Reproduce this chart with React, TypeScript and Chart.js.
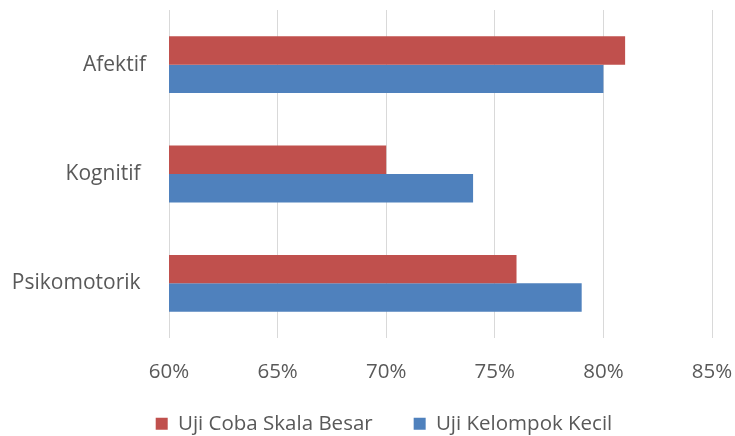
import React, { useEffect, useRef } from "react";
import { Chart, registerables } from "chart.js";

Chart.register(...registerables);

const categories = ["Afektif", "Kognitif ", "Psikomotorik "];
const seriesNames = ["Uji Coba Skala Besar", "Uji Kelompok Kecil"];
const skalaBesar = [81, 70, 76];
const kelompokKecil = [80, 74, 79];
const tickMin = 60;
const tickMax = 85;
const tickStep = 5;

const FONT = "'Open Sans', 'Noto Sans', sans-serif";
const TEXT = "#595959";

const layoutTweak = {
  id: "layoutTweak",
  afterLayout(chart: any) {
    const lg = chart.legend;
    if (lg) {
      lg.left += 28;
      lg.right += 28;
      lg.top += 8;
      lg.bottom += 8;
    }
    const x = chart.scales.x;
    if (x) {
      x.bottom += 45;
    }
  },
};

export default function App() {
  const ref = useRef<HTMLCanvasElement | null>(null);
  useEffect(() => {
    document.body.style.margin = "0";
    const ctx = ref.current!.getContext("2d")!;
    const chart = new Chart(ctx, {
      type: "bar",
      data: {
        labels: categories,
        datasets: [
          {
            label: seriesNames[0],
            data: skalaBesar,
            backgroundColor: "#C0504D",
            categoryPercentage: 0.52,
            barPercentage: 1,
          },
          {
            label: seriesNames[1],
            data: kelompokKecil,
            backgroundColor: "#4F81BD",
            categoryPercentage: 0.52,
            barPercentage: 1,
          },
        ],
      },
      options: {
        indexAxis: "y",
        responsive: false,
        animation: false,
        layout: { padding: { top: 10, right: 23, left: 0, bottom: 0 } },
        plugins: {
          tooltip: { enabled: false },
          legend: {
            position: "bottom",
            labels: {
              color: TEXT,
              font: { family: FONT, size: 20.5 },
              boxWidth: 12,
              boxHeight: 12,
              padding: 41,
            },
          },
        },
        scales: {
          x: {
            min: tickMin,
            max: tickMax,
            ticks: {
              stepSize: tickStep,
              color: TEXT,
              font: { family: FONT, size: 20.5 },
              padding: 22,
              callback: (v: any) => v + "%",
            },
            grid: { color: "#D9D9D9", lineWidth: 1, drawTicks: false },
            border: { display: false },
            afterFit: (s: any) => {
              s.height = 26.5;
              s.paddingLeft = 0;
              s.paddingRight = 0;
            },
          },
          y: {
            ticks: {
              color: TEXT,
              font: { family: FONT, size: 21 },
              padding: 23,
            },
            grid: { display: false, drawTicks: false },
            border: { display: false },
            afterFit: (s: any) => {
              s.width = 169;
              s.paddingTop = 0;
              s.paddingBottom = 0;
            },
          },
        },
      },
      plugins: [layoutTweak],
    });
    return () => chart.destroy();
  }, []);
  return <canvas ref={ref} width={735} height={436} style={{ display: "block" }} />;
}
